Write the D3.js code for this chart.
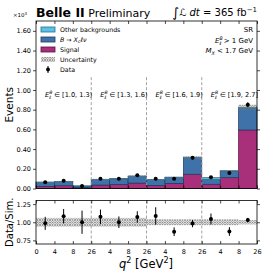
<!DOCTYPE html>
<html lang="en">
<head>
<meta charset="UTF-8">
<title>Belle II q2 bins</title>
<script src="https://cdn.jsdelivr.net/npm/d3@7"></script>
<style>
  body { margin: 0; background: #fff; }
  svg text { font-family: "DejaVu Sans", sans-serif; }
</style>
</head>
<body>
<svg width="269" height="273"></svg>
<script>
// bins: 4 E_l^B slices x 3 q2 bins, values in units of 10^3 events
const slices = ["[1.0, 1.3)", "[1.3, 1.6)", "[1.6, 1.9)", "[1.9, 2.7]"];
const binTickLabels = ["0", "4", "8", "26", "4", "8", "26", "4", "8", "26", "4", "8", "26"];
const signal = [0.022, 0.028, 0.010, 0.035, 0.042, 0.055, 0.032, 0.052, 0.145, 0.043, 0.110, 0.594];
const xclnu  = [0.041, 0.042, 0.015, 0.056, 0.056, 0.069, 0.058, 0.061, 0.169, 0.049, 0.067, 0.221];
const other  = [0.002, 0.002, 0.001, 0.002, 0.002, 0.002, 0.002, 0.002, 0.003, 0.018, 0.003, 0.010];
const data   = [0.064, 0.078, 0.026, 0.100, 0.100, 0.135, 0.100, 0.100, 0.311, 0.115, 0.157, 0.850];
const dataRelErr = [0.09, 0.10, 0.16, 0.10, 0.08, 0.08, 0.12, 0.06, 0.05, 0.075, 0.06, 0.03];
const simRelUnc  = [0.06, 0.06, 0.06, 0.06, 0.06, 0.06, 0.04, 0.04, 0.04, 0.04, 0.04, 0.03];
const yTicksMain = [0, 0.2, 0.4, 0.6, 0.8, 1.0, 1.2, 1.4, 1.6];
const yTicksRatio = [0.75, 1.0, 1.25];

const colSignal = "#a8307a", colXc = "#3f72a8", colOther = "#5bbfe6";

const svg = d3.select("svg");
const nb = signal.length;
const total = signal.map((s, i) => s + xclnu[i] + other[i]);
const ratio = data.map((d, i) => d / total[i]);

const x = d3.scaleLinear().domain([0, nb]).range([36, 257]);
const y = d3.scaleLinear().domain([0, 1.7]).range([188.5, 21]);
const yr = d3.scaleLinear().domain([0.7, 1.3]).range([244, 200.5]);

// hatch pattern for uncertainty
const defs = svg.append("defs");
const pat = defs.append("pattern").attr("id", "hatch").attr("patternUnits", "userSpaceOnUse")
  .attr("width", 2.5).attr("height", 2.5);
pat.append("path").attr("d", "M0,0L2.5,2.5M2.5,0L0,2.5").attr("stroke", "#7a7a7a").attr("stroke-width", 0.7);

// ---------- main panel ----------
const main = svg.append("g");
const layers = [
  { vals: signal, base: signal.map(() => 0), fill: colSignal, stroke: "#5a1040" },
  { vals: xclnu, base: signal, fill: colXc, stroke: "#1f3a5e" },
  { vals: other, base: signal.map((s, i) => s + xclnu[i]), fill: colOther, stroke: "#2a6f90" }
];
layers.forEach(L => {
  main.selectAll(null).data(d3.range(nb)).join("rect")
    .attr("x", i => x(i)).attr("width", x(1) - x(0))
    .attr("y", i => y(L.base[i] + L.vals[i]))
    .attr("height", i => y(L.base[i]) - y(L.base[i] + L.vals[i]))
    .attr("fill", L.fill).attr("stroke", L.stroke).attr("stroke-width", 0.7);
});
// uncertainty band
main.selectAll(null).data(d3.range(nb)).join("rect")
  .attr("x", i => x(i)).attr("width", x(1) - x(0))
  .attr("y", i => y(total[i] * (1 + simRelUnc[i])))
  .attr("height", i => y(total[i] * (1 - simRelUnc[i])) - y(total[i] * (1 + simRelUnc[i])))
  .attr("fill", "url(#hatch)");

// slice separators + labels
[1, 2, 3].forEach(k => {
  main.append("line").attr("x1", x(3 * k)).attr("x2", x(3 * k))
    .attr("y1", y(1.13)).attr("y2", y(0))
    .attr("stroke", "#999").attr("stroke-width", 0.9).attr("stroke-dasharray", "3,2");
});
slices.forEach((s, k) => {
  const t = main.append("text").attr("x", x(3 * k) + 9).attr("y", 97).attr("font-size", 6.6);
  t.append("tspan").attr("font-style", "italic").text("E");
  t.append("tspan").attr("font-size", 4.6).attr("font-style", "italic").attr("dy", -2.8).text("B");
  t.append("tspan").attr("font-size", 4.6).attr("font-style", "italic").attr("dx", -3.1).attr("dy", 4.6).text("ℓ");
  t.append("tspan").attr("dy", -1.8).attr("dx", 1).text(" ∈ " + s);
});

// data points main
const dm = main.append("g");
dm.selectAll(null).data(d3.range(nb)).join("line")
  .attr("x1", i => x(i + 0.5)).attr("x2", i => x(i + 0.5))
  .attr("y1", i => y(data[i] + dataRelErr[i] * total[i]))
  .attr("y2", i => y(data[i] - dataRelErr[i] * total[i]))
  .attr("stroke", "#000").attr("stroke-width", 1);
dm.selectAll(null).data(d3.range(nb)).join("circle")
  .attr("cx", i => x(i + 0.5)).attr("cy", i => y(data[i])).attr("r", 2).attr("fill", "#000");

// axes main
const fs = 6.5;
main.append("rect").attr("x", x(0)).attr("y", y(1.7)).attr("width", x(nb) - x(0)).attr("height", y(0) - y(1.7))
  .attr("fill", "none").attr("stroke", "#000").attr("stroke-width", 0.8);
const yAx = main.append("g").attr("transform", `translate(${x(0)},0)`)
  .call(d3.axisLeft(y).tickValues(yTicksMain).tickFormat(d3.format(".2f")).tickSize(3).tickPadding(2));
yAx.select(".domain").remove();
yAx.selectAll("text").attr("font-size", fs).attr("font-family", "DejaVu Sans");
yAx.selectAll("line").attr("stroke-width", 0.7);
const yAxR = main.append("g").attr("transform", `translate(${x(nb)},0)`)
  .call(d3.axisLeft(y).tickValues(yTicksMain).tickFormat("").tickSize(-3));
yAxR.select(".domain").remove();
yAxR.selectAll("line").attr("stroke-width", 0.7);
const xTop = main.append("g").attr("transform", `translate(0,${y(1.7)})`)
  .call(d3.axisTop(x).ticks(nb).tickFormat("").tickSize(-3));
xTop.select(".domain").remove();
xTop.selectAll("line").attr("stroke-width", 0.7);
const xBot = main.append("g").attr("transform", `translate(0,${y(0)})`)
  .call(d3.axisBottom(x).ticks(nb).tickFormat("").tickSize(-3));
xBot.select(".domain").remove();
xBot.selectAll("line").attr("stroke-width", 0.7);

// ---------- ratio panel ----------
const rp = svg.append("g");
rp.selectAll(null).data(d3.range(nb)).join("rect")
  .attr("x", i => x(i)).attr("width", x(1) - x(0))
  .attr("y", i => yr(1 + simRelUnc[i])).attr("height", i => yr(1 - simRelUnc[i]) - yr(1 + simRelUnc[i]))
  .attr("fill", "url(#hatch)");
[1, 2, 3].forEach(k => {
  rp.append("line").attr("x1", x(3 * k)).attr("x2", x(3 * k))
    .attr("y1", yr(1.3)).attr("y2", yr(0.7))
    .attr("stroke", "#999").attr("stroke-width", 0.9).attr("stroke-dasharray", "3,2");
});
rp.selectAll(null).data(d3.range(nb)).join("line")
  .attr("x1", i => x(i + 0.5)).attr("x2", i => x(i + 0.5))
  .attr("y1", i => yr(ratio[i] + dataRelErr[i])).attr("y2", i => yr(ratio[i] - dataRelErr[i]))
  .attr("stroke", "#000").attr("stroke-width", 1);
rp.selectAll(null).data(d3.range(nb)).join("circle")
  .attr("cx", i => x(i + 0.5)).attr("cy", i => yr(ratio[i])).attr("r", 2).attr("fill", "#000");
rp.append("rect").attr("x", x(0)).attr("y", yr(1.3)).attr("width", x(nb) - x(0)).attr("height", yr(0.7) - yr(1.3))
  .attr("fill", "none").attr("stroke", "#000").attr("stroke-width", 0.8);
const ryAx = rp.append("g").attr("transform", `translate(${x(0)},0)`)
  .call(d3.axisLeft(yr).tickValues(yTicksRatio).tickFormat(d3.format(".2f")).tickSize(3).tickPadding(2));
ryAx.select(".domain").remove();
ryAx.selectAll("text").attr("font-size", fs).attr("font-family", "DejaVu Sans");
ryAx.selectAll("line").attr("stroke-width", 0.7);
const ryAxR = rp.append("g").attr("transform", `translate(${x(nb)},0)`)
  .call(d3.axisLeft(yr).tickValues(yTicksRatio).tickFormat("").tickSize(-3));
ryAxR.select(".domain").remove();
ryAxR.selectAll("line").attr("stroke-width", 0.7);
const rxAx = rp.append("g").attr("transform", `translate(0,${yr(0.7)})`)
  .call(d3.axisBottom(x).ticks(nb).tickFormat((d, i) => binTickLabels[i]).tickSize(-3).tickPadding(5));
rxAx.select(".domain").remove();
rxAx.selectAll("text").attr("font-size", fs).attr("font-family", "DejaVu Sans");
rxAx.selectAll("line").attr("stroke-width", 0.7);
const rxTop = rp.append("g").attr("transform", `translate(0,${yr(1.3)})`)
  .call(d3.axisTop(x).ticks(nb).tickFormat("").tickSize(-3));
rxTop.select(".domain").remove();
rxTop.selectAll("line").attr("stroke-width", 0.7);

// ---------- labels ----------
svg.append("text").attr("transform", `translate(13,${(y(0) + y(1.7)) / 2}) rotate(-90)`)
  .attr("text-anchor", "middle").attr("font-size", 10.5).text("Events");
svg.append("text").attr("transform", `translate(13,${(yr(0.7) + yr(1.3)) / 2}) rotate(-90)`)
  .attr("text-anchor", "middle").attr("font-size", 10).text("Data/Sim.");
const xl = svg.append("text").attr("x", 146).attr("y", 268).attr("text-anchor", "middle").attr("font-size", 11.5);
xl.append("tspan").attr("font-style", "italic").text("q");
xl.append("tspan").attr("font-size", 8).attr("dy", -5).text("2");
xl.append("tspan").attr("dy", 5).text(" [GeV");
xl.append("tspan").attr("font-size", 8).attr("dy", -5).text("2");
xl.append("tspan").attr("dy", 5).text("]");

const ex = svg.append("text").attr("x", 13).attr("y", 17).attr("font-size", 5.5);
ex.append("tspan").text("×10");
ex.append("tspan").attr("font-size", 4).attr("dy", -2).text("3");

const tt = svg.append("text").attr("x", 36).attr("y", 17).attr("font-size", 12.5);
tt.append("tspan").attr("font-weight", "bold").text("Belle II");
tt.append("tspan").attr("font-size", 11).text(" Preliminary");

const lum = svg.append("text").attr("x", 257).attr("y", 16).attr("text-anchor", "end").attr("font-size", 10);
lum.append("tspan").attr("font-size", 13).attr("dy", 1).text("∫");
lum.append("tspan").attr("font-style", "italic").attr("dy", -1).text("ℒ dt");
lum.append("tspan").text(" = 365 fb");
lum.append("tspan").attr("font-size", 7).attr("dy", -4).text("−1");

// right info text
const info = svg.append("g").attr("font-size", 7).attr("text-anchor", "end");
info.append("text").attr("x", 253).attr("y", 32).text("SR");
const i2 = info.append("text").attr("x", 253).attr("y", 43);
i2.append("tspan").attr("font-style", "italic").text("E");
i2.append("tspan").attr("font-size", 4.8).attr("font-style", "italic").attr("dy", -2.8).text("B");
i2.append("tspan").attr("font-size", 4.8).attr("font-style", "italic").attr("dx", -3.2).attr("dy", 4.6).text("ℓ");
i2.append("tspan").attr("dy", -1.8).text(" > 1 GeV");
const i3 = info.append("text").attr("x", 253).attr("y", 53);
i3.append("tspan").attr("font-style", "italic").text("M");
i3.append("tspan").attr("font-size", 4.8).attr("font-style", "italic").attr("dy", 1.8).text("X");
i3.append("tspan").attr("dy", -1.8).text(" < 1.7 GeV");

// legend
const leg = svg.append("g").attr("font-size", 6.3);
const legItems = [
  { type: "box", fill: colOther, stroke: "#2a6f90" },
  { type: "box", fill: colXc, stroke: "#1f3a5e" },
  { type: "box", fill: colSignal, stroke: "#5a1040" },
  { type: "hatch" },
  { type: "data" }
];
legItems.forEach((it, k) => {
  const cy = 29.5 + k * 10;
  if (it.type === "box") {
    leg.append("rect").attr("x", 41).attr("y", cy - 2.5).attr("width", 14).attr("height", 5)
      .attr("fill", it.fill).attr("stroke", it.stroke).attr("stroke-width", 0.8);
  } else if (it.type === "hatch") {
    leg.append("rect").attr("x", 41).attr("y", cy - 2.5).attr("width", 14).attr("height", 5).attr("fill", "url(#hatch)");
  } else {
    leg.append("line").attr("x1", 48).attr("x2", 48).attr("y1", cy - 3.5).attr("y2", cy + 3.5).attr("stroke", "#000");
    leg.append("circle").attr("cx", 48).attr("cy", cy).attr("r", 1.9).attr("fill", "#000");
  }
});
leg.append("text").attr("x", 60).attr("y", 31.7).text("Other backgrounds");
const l2 = leg.append("text").attr("x", 60).attr("y", 41.7);
l2.append("tspan").attr("font-style", "italic").text("B");
l2.append("tspan").text(" → ");
l2.append("tspan").attr("font-style", "italic").text("X");
l2.append("tspan").attr("font-size", 4.5).attr("font-style", "italic").attr("dy", 1.5).text("c");
l2.append("tspan").attr("dy", -1.5).attr("font-style", "italic").text("ℓν");
leg.append("text").attr("x", 60).attr("y", 51.7).text("Signal");
leg.append("text").attr("x", 60).attr("y", 61.7).text("Uncertainty");
leg.append("text").attr("x", 60).attr("y", 71.7).text("Data");
</script>
</body>
</html>
